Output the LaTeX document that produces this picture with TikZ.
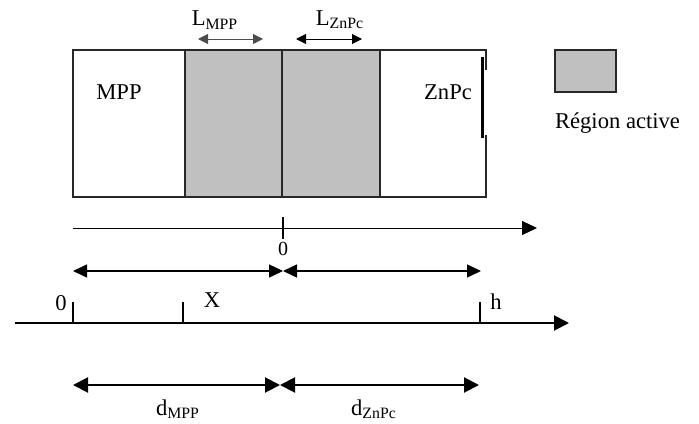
\documentclass[tikz,border=0pt]{standalone}
\usepackage{fontspec}
\setmainfont{Liberation Serif}
\usetikzlibrary{arrows.meta}
\definecolor{grisact}{RGB}{192,192,192}
\definecolor{traitbord}{RGB}{40,40,40}
\tikzset{
  lbl/.style={font=\fontsize{11.3}{13}\selectfont, inner sep=0pt},
  zone/.style={fill=grisact, draw=traitbord, line width=0.6pt},
  axe/.style={line width=0.5pt, -{Triangle[length=7.5pt,width=7pt]}},
  axegras/.style={line width=1pt, -{Triangle[length=7.5pt,width=7.5pt]}},
  fleche/.style={line width=0.7pt, {Triangle[length=7pt,width=6.5pt]}-{Triangle[length=7pt,width=6.5pt]}},
  flechegras/.style={line width=1pt, {Triangle[length=7.5pt,width=7.5pt]}-{Triangle[length=7.5pt,width=7.5pt]}},
  petite/.style={line width=0.5pt, {Triangle[length=5pt,width=5pt]}-{Triangle[length=5pt,width=5pt]}},
  graduation/.style={line width=0.6pt}
}
\begin{document}
\begin{tikzpicture}[x=0.5pt,y=-0.5pt,line cap=butt,line join=miter]
\useasboundingbox (0,0) rectangle (699,423);

% les deux regions actives
\fill[grisact] (185,50) rectangle (380,197);
\draw[line width=0.6pt,traitbord] (486,70) -- (486,50) -- (73,50) -- (73,197) -- (486,197) -- (486,135);
\foreach \xs in {185,282,380}
  \draw[line width=0.6pt,traitbord] (\xs,50) -- (\xs,197);
\draw[line width=1.5pt] (482,57) -- (482,138);

\node[lbl] (mpp) at (119,92) {MPP};
\node[lbl] (znpc) at (448,92) {ZnPc};

% epaisseurs des regions actives
\node[lbl] (lmpp) at (215,20) {L\textsubscript{MPP}};
\node[lbl] (lznpc) at (340,20) {L\textsubscript{ZnPc}};
\coordinate (lm1) at (198,39);
\coordinate (lm2) at (263,39);
\coordinate (lz1) at (296,39);
\coordinate (lz2) at (362,39);
\draw[petite,draw=black!70] (lm1) -- (lm2);
\draw[petite] (lz1) -- (lz2);

% legende
\draw[zone] (555,50) rectangle (616,92);
\node[lbl] (legende) at (617.5,123) {Région active};

% axe du haut
\coordinate (a1) at (73,228);
\coordinate (a2) at (537,228);
\coordinate (o) at (283,228);
\draw[axe] (a1) -- (a2);
\draw[graduation] (283,217) -- (283,239);
\node[lbl, font=\fontsize{10}{12}\selectfont, anchor=north] (zero1) at (283,242) {0};

\coordinate (b1) at (73,271);
\coordinate (b2) at (283,271);
\coordinate (b3) at (481,271);
\draw[fleche] (b1) -- (b2);
\draw[fleche] (b2) -- (b3);

% axe du bas
\coordinate (c1) at (15,323);
\coordinate (c2) at (569,323);
\draw[axegras] (c1) -- (c2);
\foreach \xs in {73,183,480}
  \draw[graduation] (\xs,302) -- (\xs,323);
\node[lbl] (zero2) at (61,303) {0};
\node[lbl] (xx) at (212,300) {X};
\node[lbl] (hh) at (496,302) {h};

% epaisseurs des couches
\coordinate (d1) at (73,385);
\coordinate (d2) at (280,385);
\coordinate (d3) at (479,385);
\draw[flechegras] (d1) -- (d2);
\draw[flechegras] (d2) -- (d3);
\node[lbl] (dmpp) at (178,409) {d\textsubscript{MPP}};
\node[lbl] (dznpc) at (374,409) {d\textsubscript{ZnPc}};
\end{tikzpicture}
\end{document}
